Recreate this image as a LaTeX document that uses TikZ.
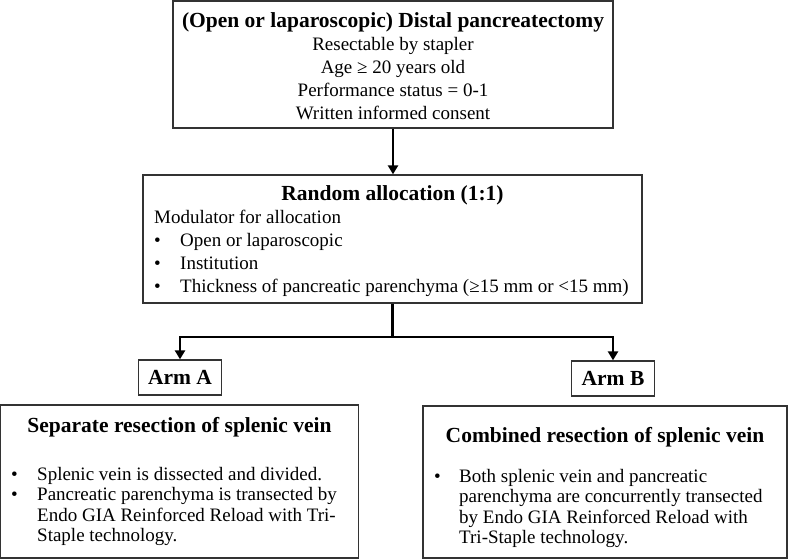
\documentclass[tikz,border=0pt]{standalone}
\usepackage{fontspec}
\setmainfont{Liberation Serif}
\usetikzlibrary{arrows.meta,positioning}

\begin{document}
\begin{tikzpicture}[
    x=1pt, y=-1pt,
    box/.style={
        draw=black!80,
        line width=1.3pt,
        inner sep=0pt
    },
    head/.style={
        font=\fontsize{21.5}{25}\selectfont\bfseries,
        inner sep=0pt
    },
    body/.style={
        font=\fontsize{19}{23}\selectfont,
        inner sep=0pt
    },
    flow/.style={
        draw,
        line width=2.6pt,
        -{Triangle[length=9pt,width=10pt]}
    },
    fork/.style={
        draw,
        line width=2.6pt,
        {Triangle[length=9pt,width=10pt]}-{Triangle[length=9pt,width=10pt]}
    },
    ]
    \useasboundingbox (0,0) rectangle (788,560);

    % eligibility
    \node [box, minimum width=440pt, minimum height=127pt] (entry) at (393,64.5) {};
    \node [head, anchor=base] (entry title) at (393,27) {(Open or laparoscopic) Distal pancreatectomy};
    \foreach \txt [count=\i] in {Resectable by stapler, Age ≥ 20 years old, Performance status = 0-1, Written informed consent}
        \node [body, anchor=base] (entry-\i) at (393,27+23*\i) {\txt};

    % randomisation
    \node [box, minimum width=499pt, minimum height=128pt] (rand) at (392.5,239) {};
    \node [head, anchor=base] (rand title) at (392.5,200) {Random allocation (1:1)};
    \node [body, anchor=base west] (rand note) at (154,223) {Modulator for allocation};
    \foreach \txt [count=\i] in {Open or laparoscopic, Institution, Thickness of pancreatic parenchyma (≥15 mm or <15 mm)} {
        \node [body, anchor=base west] (rand dot-\i) at (154,223+23*\i) {\textbullet};
        \node [body, anchor=base west] (factor-\i) at (180,223+23*\i) {\txt};
    }

    % arms
    \node [box, head, minimum width=83pt, minimum height=35pt] (armA) at (180,377.5) {Arm A};
    \node [box, head, minimum width=83pt, minimum height=35pt] (armB) at (613,378.5) {Arm B};
    \coordinate (split) at (392.5,337);
    \draw [flow] (entry.south) -- (entry.south |- rand.north);
    \draw [line width=2.6pt] (rand.south) -- (split);
    \draw [fork] (armA.north) |- (split) -| (armB.north);

    % separate resection
    \node [box, minimum width=358pt, minimum height=153pt] (sep) at (179.5,481.5) {};
    \node [head, anchor=base] (sep title) at (179.5,432) {Separate resection of splenic vein};
    \foreach \txt [count=\i] in {Splenic vein is dissected and divided., Pancreatic parenchyma is transected by, Endo GIA Reinforced Reload with Tri-, Staple technology.}
        \node [body, anchor=base west] (sep-\i) at (37,459.5+20.5*\i) {\txt};
    \node [body, anchor=base west] (sep dot-1) at (11,480) {\textbullet};
    \node [body, anchor=base west] (sep dot-2) at (11,500.5) {\textbullet};

    % combined resection
    \node [box, minimum width=364pt, minimum height=152pt] (comb) at (605,482) {};
    \node [head, anchor=base] (comb title) at (605,442) {Combined resection of splenic vein};
    \foreach \txt [count=\i] in {Both splenic vein and pancreatic, parenchyma are concurrently transected, by Endo GIA Reinforced Reload with, Tri-Staple technology.}
        \node [body, anchor=base west] (comb-\i) at (459,461.5+20.5*\i) {\txt};
    \node [body, anchor=base west] (comb dot-1) at (434,482) {\textbullet};
\end{tikzpicture}
\end{document}
